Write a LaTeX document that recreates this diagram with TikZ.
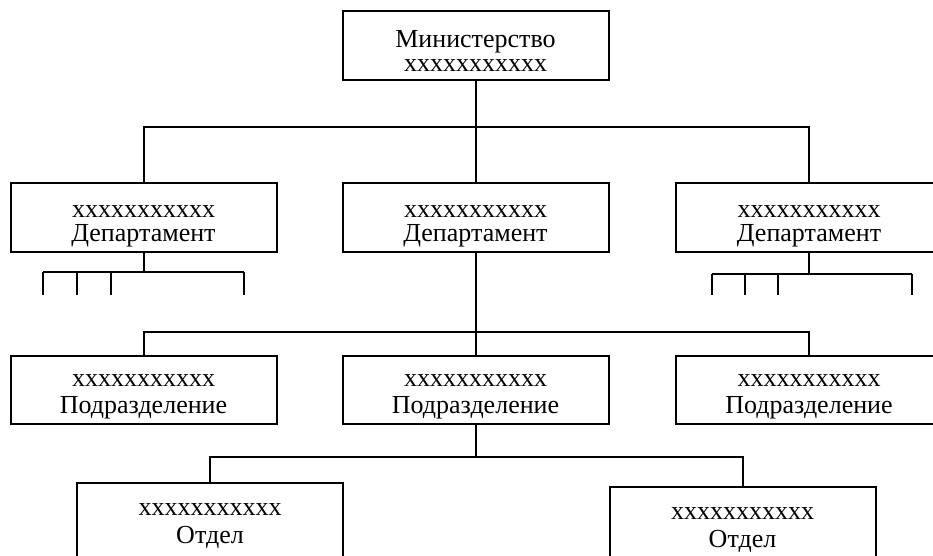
\documentclass[tikz,border=0pt]{standalone}
\usepackage{fontspec}
\setmainfont{Liberation Serif}
\usetikzlibrary{positioning}
% invisible strut that pushes the first line down inside a box
\newcommand{\lift}[1]{\rule{0pt}{#1}}

\begin{document}
\begin{tikzpicture}[x=1pt,y=-1pt,on grid,
    orgbox/.style={draw, line width=2pt, minimum width=266pt, minimum height=69pt,
                   inner sep=0pt, align=center, font=\fontsize{26}{24}\selectfont},
    subbox/.style={orgbox, minimum height=68pt, font=\fontsize{26}{27}\selectfont},
    lowbox/.style={orgbox, minimum height=80pt, font=\fontsize{26}{28}\selectfont},
    link/.style={line width=2pt}]
        % \draw[help lines] (0,0) grid (933,555);
      \useasboundingbox (0,0) rectangle (933,555);
      \clip (0,0) rectangle (933,555);

      \node[orgbox]                                   (min)  at (475.5,45.5) {\lift{27pt}Министерство\\xxxxxxxxxxx};
      \node[orgbox, below=172pt of min]               (dep2) {\lift{30pt}xxxxxxxxxxx\\Департамент};
      \node[orgbox, left=332pt of dep2]               (dep1) {\lift{30pt}xxxxxxxxxxx\\Департамент};
      \node[orgbox, right=333.5pt of dep2]            (dep3) {\lift{30pt}xxxxxxxxxxx\\Департамент};
      \node[subbox, below=172.5pt of dep2]            (sub2) {\lift{25pt}xxxxxxxxxxx\\Подразделение};
      \node[subbox, left=332pt of sub2]               (sub1) {\lift{25pt}xxxxxxxxxxx\\Подразделение};
      \node[subbox, right=333.5pt of sub2]            (sub3) {\lift{25pt}xxxxxxxxxxx\\Подразделение};
      \node[lowbox, below left=133pt and 265.5pt of sub2]  (otd1) {\lift{18pt}xxxxxxxxxxx\\Отдел};
      \node[lowbox, below right=137pt and 267pt of sub2]   (otd2) {\lift{18pt}xxxxxxxxxxx\\Отдел};

      % junctions
      \coordinate (j_min) at (min.south |- 0,127);
      \coordinate (j_dep) at (dep2.south |- 0,332);
      \coordinate (j_sub) at (sub2.south |- 0,457);
      \coordinate (j_d1) at (dep1.south |- 0,272);
      \coordinate (j_d3) at (dep3.south |- 0,274);

      \draw[link] (min.south) -- (j_min);
      \draw[link] (j_min) -| (dep1.north);
      \draw[link] (j_min) -| (dep3.north);
      \draw[link] (j_min) -- (dep2.north);

      \draw[link] (dep2.south) -- (j_dep);
      \draw[link] (j_dep) -| (sub1.north);
      \draw[link] (j_dep) -| (sub3.north);
      \draw[link] (j_dep) -- (sub2.north);

      \draw[link] (sub2.south) -- (j_sub);
      \draw[link] (j_sub) -| (otd1.north);
      \draw[link] (j_sub) -| (otd2.north);

      % short stubs below the side departments
      \draw[link] (dep1.south) -- (j_d1);
      \draw[link] (43,272) -- (244,272);
      \foreach \x in {43,77,111,244}
        {\coordinate (t1_\x) at (\x,295);
         \draw[link] (\x,272) -- (t1_\x);}
      \draw[link] (dep3.south) -- (j_d3);
      \draw[link] (712,274) -- (912,274);
      \foreach \x in {712,745,778,912}
        {\coordinate (t3_\x) at (\x,295);
         \draw[link] (\x,274) -- (t3_\x);}
    \end{tikzpicture}
\end{document}
